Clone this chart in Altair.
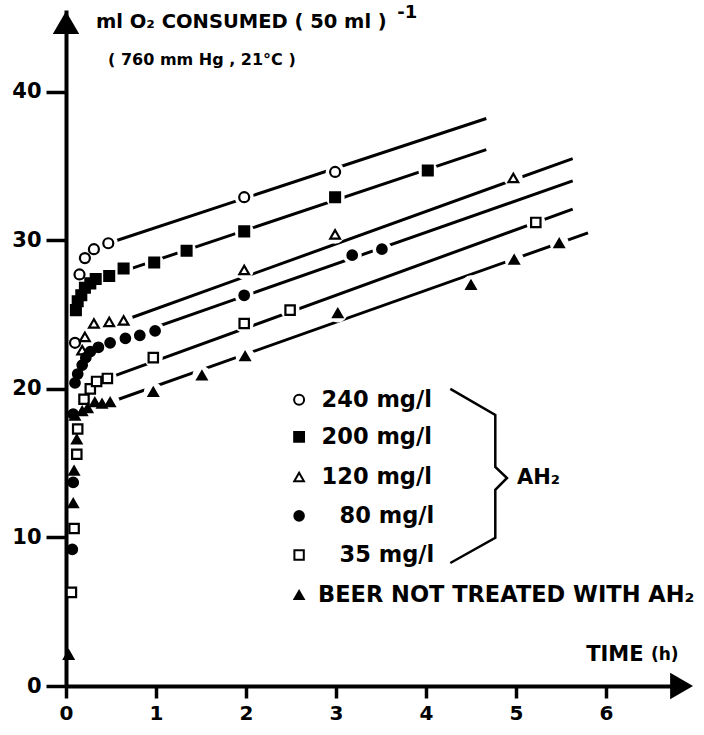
import altair as alt
import pandas as pd

FONT = "DejaVu Sans"

# ---------------- data ----------------
LABELS = ["240 mg/l", "200 mg/l", "120 mg/l", "80 mg/l", "35 mg/l",
          "BEER NOT TREATED WITH AH₂"]

S240_T = [0.10, 0.15, 0.21, 0.31, 0.47, 1.98, 2.99]
S240_V = [23.1, 27.7, 28.8, 29.4, 29.8, 32.9, 34.6]
S200_T = [0.11, 0.13, 0.17, 0.21, 0.27, 0.33, 0.48, 0.64, 0.98, 1.34, 1.98, 2.99, 4.02]
S200_V = [25.3, 25.9, 26.3, 26.8, 27.1, 27.4, 27.6, 28.1, 28.5, 29.3, 30.6, 32.9, 34.7]
S120_T = [0.18, 0.21, 0.31, 0.48, 0.64, 1.98, 2.99, 4.97]
S120_V = [22.6, 23.5, 24.4, 24.5, 24.6, 28.0, 30.4, 34.2]
S80_T = [0.07, 0.08, 0.08, 0.10, 0.13, 0.18, 0.22, 0.27, 0.36, 0.49, 0.66, 0.82, 0.99, 1.98, 3.18, 3.51]
S80_V = [9.2, 13.7, 18.3, 20.4, 21.0, 21.6, 22.1, 22.5, 22.8, 23.1, 23.4, 23.6, 23.9, 26.3, 29.0, 29.4]
S35_T = [0.06, 0.09, 0.12, 0.13, 0.20, 0.27, 0.34, 0.46, 0.97, 1.98, 2.49, 5.22]
S35_V = [6.3, 10.6, 15.6, 17.3, 19.3, 20.0, 20.5, 20.7, 22.1, 24.4, 25.3, 31.2]
S0_T = [0.03, 0.08, 0.09, 0.10, 0.12, 0.18, 0.24, 0.32, 0.40, 0.49, 0.97, 1.51, 1.99, 3.02, 4.50, 4.98, 5.48]
S0_V = [2.1, 12.3, 14.5, 18.2, 16.6, 18.5, 18.7, 19.1, 19.0, 19.1, 19.8, 20.9, 22.2, 25.1, 27.0, 28.7, 29.8]

# straight fitted lines: start and end of each series' line
LINE_T0 = [0.47, 0.48, 0.64, 0.36, 0.46, 0.49]
LINE_V0 = [29.8, 27.6, 24.6, 22.8, 20.7, 19.1]
LINE_T1 = [4.67, 4.67, 5.63, 5.63, 5.63, 5.80]
LINE_V1 = [38.2, 36.1, 35.5, 34.0, 32.1, 30.5]

X_TICKS = [0, 1, 2, 3, 4, 5, 6]
Y_TICKS = [0, 10, 20, 30, 40]
X_MAX = 6.9
Y_MAX = 45.5

# ---------------- styles ----------------
SHAPES = ["circle", "square", "triangle-up", "circle", "square", "triangle-up"]
FILLS = ["white", "black", "white", "black", "white", "black"]
SIZES = [100, 85, 150, 100, 80, 160]

# legend layout (data coordinates)
LEG_V = [19.26, 16.77, 14.07, 11.45, 8.82, 6.13]
LEG_MARK_T = [2.59, 2.59, 2.59, 2.59, 2.59, 2.59]
LEG_TEXT_T = [2.84, 2.84, 2.84, 3.04, 3.04, 2.80]
BRACE_T = [4.27, 4.77, 4.77, 4.90, 4.77, 4.77, 4.27]
BRACE_V = [20.0, 18.25, 14.75, 14.0, 13.2, 9.97, 8.28]

# ---------------- tables ----------------
series_t = [S240_T, S200_T, S120_T, S80_T, S35_T, S0_T]
series_v = [S240_V, S200_V, S120_V, S80_V, S35_V, S0_V]
rows = []
for lab, ts, vs in zip(LABELS, series_t, series_v):
    for t, v in zip(ts, vs):
        rows.append({"t": t, "v": v, "s": lab})
pts = pd.DataFrame(rows)
start = dict(zip(LABELS, LINE_T0))
halo = pts[pts["t"] >= pts["s"].map(start) - 0.01]

lines = pd.DataFrame({"t": LINE_T0, "v": LINE_V0, "t2": LINE_T1, "v2": LINE_V1, "s": LABELS})
leg = pd.DataFrame({"t": LEG_MARK_T, "v": LEG_V, "s": LABELS})
legtxt = pd.DataFrame({"t": LEG_TEXT_T, "v": LEG_V, "txt": LABELS})
brace = pd.DataFrame({"t": BRACE_T, "v": BRACE_V, "o": list(range(len(BRACE_T)))})

ann = pd.DataFrame({
    "t": [0.333, 3.68, 0.467, 5.78, 6.50, 5.01],
    "v": [44.7, 45.3, 42.15, 2.09, 2.09, 14.0],
    "txt": ["ml O₂  CONSUMED ( 50 ml )", "-1", "( 760 mm Hg , 21°C )",
            "TIME", "(h)", "AH₂"],
    "fs": [19.5, 18, 16, 21, 17, 21],
})
arrows = pd.DataFrame({"t": [0.0, 6.84], "v": [44.65, 0.0],
                       "shape": ["triangle-up", "triangle-right"]})

XS = alt.Scale(domain=[0, X_MAX], nice=False, zero=False)
YS = alt.Scale(domain=[0, Y_MAX], nice=False, zero=False)
XAX = alt.Axis(values=X_TICKS, format="d", title=None, grid=False,
               domainWidth=4, domainColor="black", tickWidth=3.5, tickColor="black",
               tickSize=12, labelFont=FONT, labelFontWeight="bold", labelFontSize=20,
               labelColor="black", labelPadding=5, labelFlush=False)
YAX = alt.Axis(values=Y_TICKS, format="d", title=None, grid=False,
               domainWidth=4, domainColor="black", tickWidth=3.5, tickColor="black",
               tickSize=20, labelFont=FONT, labelFontWeight="bold", labelFontSize=21,
               labelColor="black", labelPadding=5, labelFlush=False)


def X(f="t"):
    return alt.X(f"{f}:Q", scale=XS, axis=XAX)


def Y(f="v"):
    return alt.Y(f"{f}:Q", scale=YS, axis=YAX)


shape_enc = alt.Shape("s:N", scale=alt.Scale(domain=LABELS, range=SHAPES), legend=None)
fill_enc = alt.Fill("s:N", scale=alt.Scale(domain=LABELS, range=FILLS), legend=None)
size_enc = alt.Size("s:N", scale=alt.Scale(domain=LABELS, range=SIZES), legend=None)

line_layer = alt.Chart(lines).mark_rule(color="black", strokeWidth=3).encode(
    x=X(), y=Y(), x2="t2:Q", y2="v2:Q")

halo_layer = alt.Chart(halo).mark_point(filled=True, color="white", opacity=1,
                                         shape="circle", size=360).encode(x=X(), y=Y())

pt_layer = alt.Chart(pts).mark_point(stroke="black", strokeWidth=2.2, opacity=1,
                                     fillOpacity=1).encode(
    x=X(), y=Y(), shape=shape_enc, fill=fill_enc, size=size_enc)

leg_layer = alt.Chart(leg).mark_point(stroke="black", strokeWidth=2, opacity=1,
                                      fillOpacity=1).encode(
    x=X(), y=Y(), shape=shape_enc, fill=fill_enc, size=size_enc)

legtxt_layer = alt.Chart(legtxt).mark_text(
    align="left", baseline="middle", font=FONT, fontWeight="bold", fontSize=22.5,
    color="black").encode(x=X(), y=Y(), text="txt:N")

brace_layer = alt.Chart(brace).mark_line(color="black", strokeWidth=2.5,
                                         strokeJoin="miter").encode(
    x=X(), y=Y(), order="o:Q")

ann_layer = alt.Chart(ann).mark_text(
    align="left", baseline="middle", font=FONT, fontWeight="bold",
    color="black").encode(x=X(), y=Y(), text="txt:N",
                          size=alt.Size("fs:Q", scale=None, legend=None))

arrow_layer = alt.Chart(arrows).mark_point(filled=True, color="black", opacity=1,
                                           size=700).encode(
    x=X(), y=Y(),
    shape=alt.Shape("shape:N", scale=None, legend=None))

chart = alt.layer(
    line_layer, halo_layer, pt_layer, leg_layer, legtxt_layer, brace_layer,
    ann_layer, arrow_layer
).properties(
    width=621, height=676,
    autosize=alt.AutoSizeParams(type="none"),
    padding={"left": 66, "top": 10, "right": 17, "bottom": 49},
    background="white",
).configure_view(stroke=None)

chart.save("out.html", embed_options={"renderer": "svg", "actions": False})
